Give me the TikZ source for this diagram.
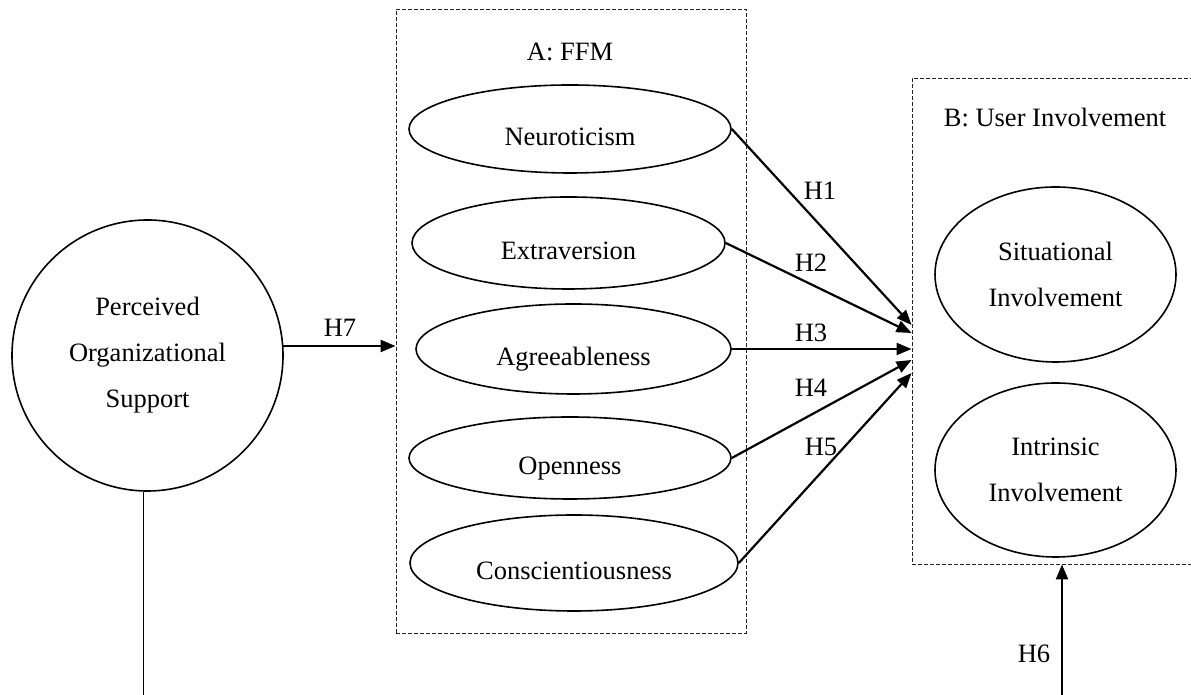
\documentclass[tikz,border=0pt]{standalone}
\usepackage{fontspec}
\setmainfont{Liberation Serif}
\usetikzlibrary{shapes.geometric,arrows.meta}
\newcommand{\figwidth}{1191pt}
\newcommand{\figheight}{695pt}
\definecolor{inkcolor}{HTML}{000000}
\definecolor{groupcolor}{HTML}{222222}

\tikzset{
  construct/.style={ellipse, draw=inkcolor, line width=1.6pt, inner sep=0pt, align=center,
    font=\fontsize{26.5}{46}\selectfont},
  trait/.style={construct, text height=36pt, text depth=2pt},
  rootconstruct/.style={construct, circle, minimum size=271pt},
  groupbox/.style={draw=groupcolor, line width=0.9pt, dash pattern=on 4pt off 2pt, inner sep=0pt},
  grouptitle/.style={font=\fontsize{26.5}{30}\selectfont},
  hyplabel/.style={font=\fontsize{26.5}{30}\selectfont},
  hyparrow/.style={-{Triangle[length=15pt,width=12pt]}, line width=2.2pt, inkcolor}
}

\begin{document}
\begin{tikzpicture}
  \useasboundingbox (0,0) rectangle (\figwidth, \figheight);

  % === GROUP BOXES ===
  \node[groupbox, minimum width=350pt, minimum height=624pt] (ffm) at (571pt, 374pt) {};
  \node[grouptitle] (ffmtitle) at (570pt, 643pt) {A: FFM};

  \node[groupbox, minimum width=300pt, minimum height=486pt] (uib) at (1062pt, 374pt) {};
  \node[grouptitle] (uibtitle) at (1055pt, 577pt) {B: User Involvement};

  % === CONSTRUCTS ===
  \node[rootconstruct] (pos) at (147.5pt, 339.5pt) {Perceived\\Organizational\\Support};

  \node[trait, minimum width=322pt, minimum height=88pt] (neu) at (570pt, 566pt) {Neuroticism};
  \node[trait, minimum width=313pt, minimum height=92pt] (ext) at (568.5pt, 452pt) {Extraversion};
  \node[trait, minimum width=315pt, minimum height=90pt] (agr) at (573.5pt, 346pt) {Agreeableness};
  \node[trait, minimum width=322pt, minimum height=82pt] (ope) at (570pt, 237pt) {Openness};
  \node[trait, minimum width=328pt, minimum height=96pt] (con) at (574pt, 132pt) {Conscientiousness};

  \node[construct, minimum width=241pt, minimum height=175pt] (sit) at (1055.5pt, 420.5pt) {Situational\\Involvement};
  \node[construct, minimum width=241pt, minimum height=174pt] (int) at (1055.5pt, 225pt) {Intrinsic\\Involvement};

  % === HYPOTHESES H1-H5 ===
  \coordinate (t1) at (uib.west |- 0,370pt);
  \coordinate (t2) at (uib.west |- 0,362pt);
  \coordinate (t4) at (uib.west |- 0,335pt);
  \coordinate (t5) at (uib.west |- 0,322pt);

  \draw[hyparrow] (neu.east) -- (t1);
  \draw[hyparrow] (ext.east) -- (t2);
  \draw[hyparrow] (agr.east) -- (agr.east -| uib.west);
  \draw[hyparrow] (ope.east) -- (t4);
  \draw[hyparrow] (con.east) -- (t5);

  \node[hyplabel] (h1) at (820pt, 504pt) {H1};
  \node[hyplabel] (h2) at (811pt, 432pt) {H2};
  \node[hyplabel] (h3) at (811pt, 362pt) {H3};
  \node[hyplabel] (h4) at (811pt, 307pt) {H4};
  \node[hyplabel] (h5) at (821pt, 248pt) {H5};

  % === H7 ===
  \draw[hyparrow] (pos.4) -- (pos.4 -| ffm.west);
  \node[hyplabel] (h7) at (340pt, 367pt) {H7};

  % === H6 and the line down from POS ===
  \coordinate (posfoot) at (143.5pt, 0pt);
  \draw[line width=1.6pt, inkcolor] (pos.south -| posfoot) -- (posfoot);

  \coordinate (h6foot) at (1062pt, 0pt);
  \draw[hyparrow] (h6foot) -- (h6foot |- uib.south);
  \node[hyplabel] (h6) at (1034pt, 41pt) {H6};
\end{tikzpicture}
\end{document}
